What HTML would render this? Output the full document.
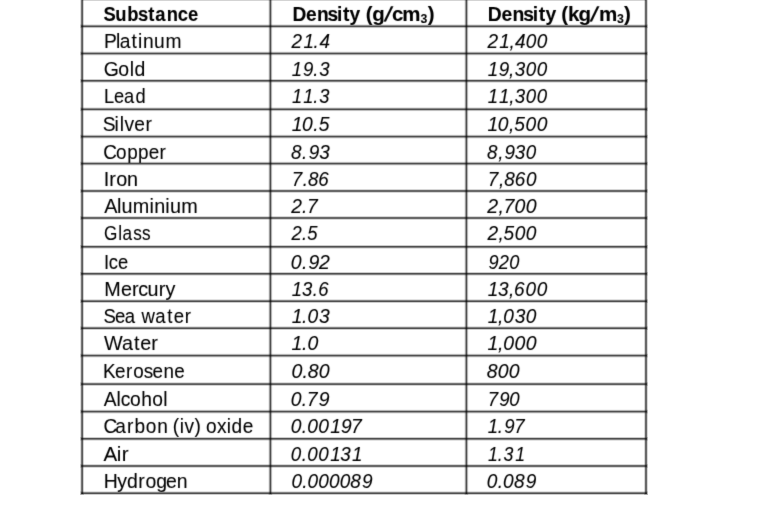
<!DOCTYPE html>
<html><head><meta charset="utf-8"><title>Density of substances</title>
<style>
html,body{margin:0;padding:0;background:#fff}
body{width:773px;height:521px;overflow:hidden}
svg{display:block}
text{font-family:"Liberation Sans",sans-serif;font-size:20.30px;fill:#000;white-space:pre;stroke:#000;stroke-width:0.10px}
text.h{font-weight:bold;font-size:20.30px;stroke-width:0.10px}
text.i{font-style:italic}
tspan.s{font-size:13.40px}
</style></head>
<body><svg width="773" height="521" viewBox="0 0 773 521">
<rect width="773" height="521" fill="#fff"/>
<rect x="82.10" y="0" width="563.90" height="1" fill="#d3d3d3"/>
<g fill-opacity="0.6">
<rect x="81.30" y="-3" width="1.60" height="497.00"/>
<rect x="269.60" y="-3" width="1.60" height="497.00"/>
<rect x="465.60" y="-3" width="1.60" height="497.00"/>
<rect x="645.20" y="-3" width="1.60" height="497.00"/>
<rect x="81.30" y="25.50" width="565.50" height="1.60"/>
<rect x="81.30" y="52.70" width="565.50" height="1.60"/>
<rect x="81.30" y="80.00" width="565.50" height="1.60"/>
<rect x="81.30" y="108.50" width="565.50" height="1.60"/>
<rect x="81.30" y="135.80" width="565.50" height="1.60"/>
<rect x="81.30" y="162.80" width="565.50" height="1.60"/>
<rect x="81.30" y="190.20" width="565.50" height="1.60"/>
<rect x="81.30" y="217.20" width="565.50" height="1.60"/>
<rect x="81.30" y="246.00" width="565.50" height="1.60"/>
<rect x="81.30" y="273.00" width="565.50" height="1.60"/>
<rect x="81.30" y="300.40" width="565.50" height="1.60"/>
<rect x="81.30" y="327.40" width="565.50" height="1.60"/>
<rect x="81.30" y="354.80" width="565.50" height="1.60"/>
<rect x="81.30" y="383.30" width="565.50" height="1.60"/>
<rect x="81.30" y="410.80" width="565.50" height="1.60"/>
<rect x="81.30" y="438.00" width="565.50" height="1.60"/>
<rect x="81.30" y="465.20" width="565.50" height="1.60"/>
<rect x="81.30" y="492.40" width="565.50" height="1.60"/>
</g>
<g fill-opacity="0.2">
<rect x="80.30" y="-3" width="3.60" height="498.00"/>
<rect x="268.60" y="-3" width="3.60" height="498.00"/>
<rect x="464.60" y="-3" width="3.60" height="498.00"/>
<rect x="644.20" y="-3" width="3.60" height="498.00"/>
<rect x="80.30" y="24.50" width="567.50" height="3.60"/>
<rect x="80.30" y="51.70" width="567.50" height="3.60"/>
<rect x="80.30" y="79.00" width="567.50" height="3.60"/>
<rect x="80.30" y="107.50" width="567.50" height="3.60"/>
<rect x="80.30" y="134.80" width="567.50" height="3.60"/>
<rect x="80.30" y="161.80" width="567.50" height="3.60"/>
<rect x="80.30" y="189.20" width="567.50" height="3.60"/>
<rect x="80.30" y="216.20" width="567.50" height="3.60"/>
<rect x="80.30" y="245.00" width="567.50" height="3.60"/>
<rect x="80.30" y="272.00" width="567.50" height="3.60"/>
<rect x="80.30" y="299.40" width="567.50" height="3.60"/>
<rect x="80.30" y="326.40" width="567.50" height="3.60"/>
<rect x="80.30" y="353.80" width="567.50" height="3.60"/>
<rect x="80.30" y="382.30" width="567.50" height="3.60"/>
<rect x="80.30" y="409.80" width="567.50" height="3.60"/>
<rect x="80.30" y="437.00" width="567.50" height="3.60"/>
<rect x="80.30" y="464.20" width="567.50" height="3.60"/>
<rect x="80.30" y="491.40" width="567.50" height="3.60"/>
</g>
<defs><filter id="tb" x="0" y="0" width="773" height="521" filterUnits="userSpaceOnUse" color-interpolation-filters="sRGB"><feConvolveMatrix order="3" kernelMatrix="0.0100 0.0800 0.0100 0.0800 0.6400 0.0800 0.0100 0.0800 0.0100" edgeMode="none"/></filter></defs>
<g filter="url(#tb)">
<text class="h" x="113.94 126.84 140.14 152.08 163.35 170.88 183.55 195.83 206.96" y="21.00" transform="matrix(0.9080 0 0 1 0 0)">Substance</text>
<text class="h" x="309.23 323.68 335.09 346.31 356.43 362.57 369.66" y="21.00" transform="matrix(0.9457 0 0 1 0 0)">Density</text>
<text class="h" x="362.97 369.57" y="21.00" transform="matrix(1.0075 0 0 1 0 0)">(g</text>
<text class="h" x="382.56" y="21.00" transform="matrix(1.0075 0 -0.3000 1 4.350 0)">/</text>
<text class="h" x="389.18 399.38 417.47 424.48" y="21.00" transform="matrix(1.0075 0 0 1 0 0)">cm<tspan dy="2.50" style="font-size:12.18px">3</tspan><tspan dy="-2.50">)</tspan></text>
<text class="h" x="511.50 525.94 537.35 548.57 558.69 564.83 571.92" y="21.00" transform="matrix(0.9537 0 0 1 0 0)">Density</text>
<text class="h" x="554.17 560.65 571.09" y="21.00" transform="matrix(1.0130 0 0 1 0 0)">(kg</text>
<text class="h" x="583.93" y="21.00" transform="matrix(1.0130 0 -0.3000 1 4.350 0)">/</text>
<text class="h" x="591.30 609.19 616.11" y="21.00" transform="matrix(1.0130 0 0 1 0 0)">m<tspan dy="2.50" style="font-size:12.18px">3</tspan><tspan dy="-2.50">)</tspan></text>
<text class="r" x="109.90 122.59 126.45 138.93 145.88 150.99 162.59 174.71" y="48.00" transform="matrix(0.9467 0 0 1 0 0)">Platinum</text>
<text class="i" x="313.14 325.87 336.68 343.06" y="48.00" transform="matrix(0.9310 0 0 1 0 0)">21.4</text>
<text class="i" x="519.38 531.95 542.83 548.86 560.20 571.96" y="48.00" transform="matrix(0.9385 0 0 1 0 0)">21,400</text>
<text class="r" x="108.38 123.58 135.48 140.43" y="76.00" transform="matrix(0.9572 0 0 1 0 0)">Gold</text>
<text class="i" x="319.18 331.43 342.63 349.13" y="76.00" transform="matrix(0.9143 0 0 1 0 0)">19.3</text>
<text class="i" x="525.49 537.40 548.55 554.54 566.40 578.41" y="76.00" transform="matrix(0.9281 0 0 1 0 0)">19,300</text>
<text class="r" x="115.48 126.59 137.81 150.58" y="103.00" transform="matrix(0.9004 0 0 1 0 0)">Lead</text>
<text class="i" x="324.60 337.16 348.40 355.07" y="103.00" transform="matrix(0.8993 0 0 1 0 0)">11.3</text>
<text class="i" x="530.29 542.41 553.53 559.61 571.57 583.69" y="103.00" transform="matrix(0.9198 0 0 1 0 0)">11,300</text>
<text class="r" x="108.55 121.09 126.40 131.44 141.85 153.87" y="131.00" transform="matrix(0.9465 0 0 1 0 0)">Silver</text>
<text class="i" x="307.47 318.36 330.26 336.07" y="131.00" transform="matrix(0.9486 0 0 1 0 0)">10.5</text>
<text class="i" x="515.21 525.95 537.89 543.34 555.31 567.08" y="131.00" transform="matrix(0.9464 0 0 1 0 0)">10,500</text>
<text class="r" x="110.96 124.52 136.46 148.25 159.60 171.32" y="159.00" transform="matrix(0.9316 0 0 1 0 0)">Copper</text>
<text class="i" x="312.30 324.28 331.29 342.54" y="159.00" transform="matrix(0.9317 0 0 1 0 0)">8.93</text>
<text class="i" x="525.29 537.41 544.17 555.39 567.23" y="159.00" transform="matrix(0.9270 0 0 1 0 0)">8,930</text>
<text class="r" x="106.42 112.10 119.04 130.10" y="186.00" transform="matrix(0.9757 0 0 1 0 0)">Iron</text>
<text class="i" x="316.32 328.15 333.82 345.06" y="186.00" transform="matrix(0.9223 0 0 1 0 0)">7.86</text>
<text class="i" x="522.87 534.89 540.40 551.72 563.76" y="186.00" transform="matrix(0.9329 0 0 1 0 0)">7,860</text>
<text class="r" x="106.59 119.76 124.40 135.92 153.05 157.82 169.22 173.87 185.39" y="213.00" transform="matrix(0.9772 0 0 1 0 0)">Aluminium</text>
<text class="i" x="308.12 319.43 324.82" y="213.00" transform="matrix(0.9455 0 0 1 0 0)">2.7</text>
<text class="i" x="506.64 518.14 523.35 535.00 546.48" y="213.00" transform="matrix(0.9619 0 0 1 0 0)">2,700</text>
<text class="r" x="122.89 139.72 144.90 157.65 167.88" y="240.00" transform="matrix(0.8460 0 0 1 0 0)">Glass</text>
<text class="i" x="321.00 332.63 338.40" y="240.00" transform="matrix(0.9082 0 0 1 0 0)">2.5</text>
<text class="i" x="517.70 529.37 534.78 546.69 558.42" y="240.00" transform="matrix(0.9416 0 0 1 0 0)">2,500</text>
<text class="r" x="114.91 120.35 130.32" y="269.00" transform="matrix(0.9047 0 0 1 0 0)">Ice</text>
<text class="i" x="303.70 315.46 322.23 333.29" y="269.00" transform="matrix(0.9575 0 0 1 0 0)">0.92</text>
<text class="i" x="544.24 555.45 567.14" y="269.00" transform="matrix(0.8978 0 0 1 0 0)">920</text>
<text class="r" x="107.09 124.31 135.52 142.05 151.52 163.11 169.95" y="296.00" transform="matrix(0.9738 0 0 1 0 0)">Mercury</text>
<text class="i" x="320.34 331.62 343.50 349.30" y="296.00" transform="matrix(0.9108 0 0 1 0 0)">13.6</text>
<text class="i" x="520.97 531.99 543.86 549.22 561.51 573.42" y="296.00" transform="matrix(0.9361 0 0 1 0 0)">13,600</text>
<text class="r" x="113.15 125.63 136.40 148.18 154.72 169.76 182.73 189.80 201.99" y="323.00" transform="matrix(0.9148 0 0 1 0 0)">Sea water</text>
<text class="i" x="306.99 317.80 323.74 335.79" y="323.00" transform="matrix(0.9500 0 0 1 0 0)">1.03</text>
<text class="i" x="518.43 529.39 535.12 547.17 558.90" y="323.00" transform="matrix(0.9406 0 0 1 0 0)">1,030</text>
<text class="r" x="106.61 124.89 137.21 143.62 155.12" y="350.00" transform="matrix(0.9759 0 0 1 0 0)">Water</text>
<text class="i" x="304.46 315.22 321.11" y="350.00" transform="matrix(0.9578 0 0 1 0 0)">1.0</text>
<text class="i" x="508.96 519.78 525.34 537.01 548.68" y="350.00" transform="matrix(0.9580 0 0 1 0 0)">1,000</text>
<text class="r" x="110.97 123.85 135.77 143.52 154.68 164.20 175.94 187.59" y="378.00" transform="matrix(0.9289 0 0 1 0 0)">Kerosene</text>
<text class="i" x="302.50 314.00 319.47 330.84" y="378.00" transform="matrix(0.9633 0 0 1 0 0)">0.80</text>
<text class="i" x="508.20 519.70 531.17" y="378.00" transform="matrix(0.9577 0 0 1 0 0)">800</text>
<text class="r" x="109.49 122.95 127.35 137.31 149.03 160.64 172.41" y="406.00" transform="matrix(0.9474 0 0 1 0 0)">Alcohol</text>
<text class="i" x="305.11 316.68 322.09 334.62" y="406.00" transform="matrix(0.9526 0 0 1 0 0)">0.79</text>
<text class="i" x="532.55 545.22 555.89" y="406.00" transform="matrix(0.9159 0 0 1 0 0)">790</text>
<text class="r" x="110.07 122.68 135.12 143.06 154.98 167.14 178.52 183.77 191.27 196.29 206.95 213.29 219.11 230.71 241.13 246.26 258.19" y="433.00" transform="matrix(0.9402 0 0 1 0 0)">Carbon (iv) oxide</text>
<text class="i" x="306.62 318.29 323.99 335.58 348.22 359.68 370.20" y="433.00" transform="matrix(0.9482 0 0 1 0 0)">0.00197</text>
<text class="i" x="532.37 543.28 550.31 561.28" y="433.00" transform="matrix(0.9161 0 0 1 0 0)">1.97</text>
<text class="r" x="101.96 115.04 120.03" y="461.00" transform="matrix(1.0144 0 0 1 0 0)">Air</text>
<text class="i" x="313.58 325.39 331.29 343.11 355.98 366.92 379.63" y="461.00" transform="matrix(0.9275 0 0 1 0 0)">0.00131</text>
<text class="i" x="559.55 570.79 577.46 590.91" y="461.00" transform="matrix(0.8720 0 0 1 0 0)">1.31</text>
<text class="r" x="108.41 122.43 132.45 144.42 151.77 163.08 173.33 184.58" y="488.00" transform="matrix(0.9582 0 0 1 0 0)">Hydrogen</text>
<text class="i" x="310.65 322.20 327.76 339.18 350.60 362.02 373.41 385.76" y="488.00" transform="matrix(0.9382 0 0 1 0 0)">0.000089</text>
<text class="i" x="517.00 528.67 534.38 545.96 558.51" y="488.00" transform="matrix(0.9415 0 0 1 0 0)">0.089</text>
</g>
</svg></body></html>
